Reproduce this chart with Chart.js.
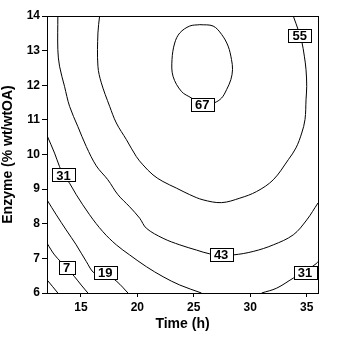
<!DOCTYPE html>
<html>
<head>
<meta charset="utf-8">
<script src="https://cdn.jsdelivr.net/npm/chart.js@4.4.0/dist/chart.umd.min.js"></script>
<style>
  html, body { margin: 0; padding: 0; background: #fff; }
</style>
</head>
<body>
<canvas id="myChart" width="337" height="343"></canvas>
<script>
// contour levels of the fitted surface
const levels = [-5, 7, 19, 31, 31, 43, 55, 67];

// contour lines as [time (h), enzyme (% wt/wtOA)] pairs
const lineM5 = [[12, 6.38], [12.51, 6.18], [12.96, 6.0]];
const line7 = [[12, 7.44], [12.67, 7.10], [13.73, 6.73], [14.44, 6.47], [15.03, 6.23], [15.62, 6.0]];
const line19 = [[12, 8.69], [12.82, 8.26], [13.70, 7.82], [14.59, 7.39], [15.48, 6.91], [16.21, 6.57],
    [17.16, 6.55], [18.19, 6.33], [19.17, 6.0]];
const line31a = [[12, 10.55], [12.67, 10.04], [13.11, 9.65], [13.46, 9.41], [14.0, 9.17], [14.59, 8.84],
    [15.77, 8.26], [16.95, 7.77], [18.14, 7.39], [19.32, 7.10], [20.80, 6.76], [22.28, 6.47],
    [23.76, 6.23], [25.68, 6.0]];
const line31b = [[31.01, 6.0], [32.34, 6.14], [33.81, 6.43], [34.85, 6.62], [35.89, 6.86], [36, 6.91]];
const line43 = [[12.96, 14], [12.96, 13.03], [13.11, 12.55], [13.55, 11.97], [14.0, 11.39], [14.73, 10.81],
    [15.48, 10.23], [16.37, 9.67], [17.39, 9.27], [18.28, 8.84], [19.32, 8.49], [20.21, 8.16],
    [20.80, 7.87], [22.28, 7.58], [23.76, 7.39], [25.24, 7.24], [26.42, 7.13], [27.42, 7.11],
    [28.49, 7.10], [30.26, 7.20], [32.04, 7.39], [33.81, 7.68], [35.0, 8.11], [36, 8.60]];
const line55 = [[16.66, 14], [16.51, 13.51], [16.51, 12.55], [16.81, 12.07], [17.55, 11.39], [18.14, 10.91],
    [19.03, 10.43], [19.91, 9.94], [20.50, 9.70], [21.39, 9.41], [22.27, 9.22], [23.46, 9.03],
    [24.64, 8.84], [25.82, 8.69], [27.46, 8.61], [29.08, 8.74], [30.56, 8.93], [32.04, 9.27],
    [33.37, 9.85], [34.05, 10.19], [34.56, 10.62], [34.85, 11.01], [34.94, 11.58], [35.0, 11.97],
    [34.94, 12.45], [34.79, 12.84], [34.56, 13.27], [34.30, 13.55], [33.81, 14]];
const line67 = [[25.53, 13.75], [26.71, 13.71], [27.46, 13.47], [28.04, 13.13], [28.34, 12.74], [28.43, 12.45],
    [28.28, 12.16], [27.90, 11.87], [27.46, 11.63], [26.80, 11.49], [25.80, 11.41], [24.80, 11.63],
    [23.91, 11.82], [23.16, 12.26], [23.07, 12.74], [23.31, 13.22], [23.76, 13.51], [24.64, 13.71],
    [25.53, 13.75]];
const contourLines = [lineM5, line7, line19, line31a, line31b, line43, line55, line67];

// boxed level labels
const labelText = ['7', '19', '31', '43', '55', '67', '31'];
const labelTime = [13.73, 17.16, 13.46, 27.42, 34.39, 25.75, 34.85];
const labelEnzyme = [6.73, 6.59, 9.41, 7.11, 13.45, 11.44, 6.58];

const xTicks = [15, 20, 25, 30, 35];

const FONT = '"Liberation Sans", Arial, sans-serif';

const datasets = contourLines.map((pts, i) => ({
    label: String(levels[i]),
    data: pts.map(p => ({x: p[0], y: p[1]})),
    showLine: true,
    borderColor: '#000',
    borderWidth: 1,
    pointRadius: 0,
    tension: 0.35,
    fill: false
}));

// frame around the plot area plus the boxed labels on top of the lines
const contourLabels = {
    id: 'contourLabels',
    afterDatasetsDraw(chart) {
        const {ctx, chartArea: a, scales: {x, y}} = chart;
        ctx.save();
        ctx.strokeStyle = '#000';
        ctx.lineWidth = 1;
        const l = Math.floor(a.left) + 0.5, t = Math.floor(a.top) + 0.5;
        const r = Math.floor(a.right) + 0.5, b = Math.floor(a.bottom) + 0.5;
        ctx.strokeRect(l, t, r - l, b - t);

        ctx.font = 'bold 13px ' + FONT;
        ctx.textAlign = 'center';
        ctx.textBaseline = 'middle';
        labelText.forEach((txt, i) => {
            const px = x.getPixelForValue(labelTime[i]);
            const py = y.getPixelForValue(labelEnzyme[i]);
            const w = Math.round(ctx.measureText(txt).width + 9);
            const h = 13;
            const bx = Math.round(px - w / 2) + 0.5, by = Math.round(py - h / 2) + 0.5;
            ctx.fillStyle = '#fff';
            ctx.fillRect(bx, by, w, h);
            ctx.strokeRect(bx, by, w, h);
            ctx.fillStyle = '#000';
            ctx.fillText(txt, px, py + 1);
        });
        ctx.restore();
    }
};

const config = {
    type: 'scatter',
    data: {datasets: datasets},
    options: {
        responsive: false,
        animation: false,
        devicePixelRatio: 1,
        layout: {padding: {left: 0, top: 16, right: 19, bottom: 0}},
        plugins: {
            legend: {display: false},
            tooltip: {enabled: false}
        },
        scales: {
            x: {
                type: 'linear',
                min: 12,
                max: 36,
                afterBuildTicks: s => { s.ticks = xTicks.map(v => ({value: v})); },
                afterFit: s => { s.height = 50; },
                grid: {drawOnChartArea: false, drawTicks: true, tickLength: 4, color: '#000'},
                border: {display: true, color: '#000', width: 1},
                ticks: {color: '#000', padding: 3, font: {family: FONT, size: 12, weight: 'bold'}},
                title: {
                    display: true,
                    text: 'Time (h)',
                    color: '#000',
                    padding: {top: 0, bottom: 10},
                    font: {family: FONT, size: 14, weight: 'bold'}
                }
            },
            y: {
                type: 'linear',
                min: 6,
                max: 14,
                afterFit: s => { s.width = 47; },
                grid: {drawOnChartArea: false, drawTicks: true, tickLength: 5, color: '#000'},
                border: {display: true, color: '#000', width: 1},
                ticks: {stepSize: 1, color: '#000', padding: 2, font: {family: FONT, size: 12, weight: 'bold'}},
                title: {
                    display: true,
                    text: 'Enzyme (% wt/wtOA)',
                    color: '#000',
                    padding: {top: 0, bottom: 0},
                    font: {family: FONT, size: 14, weight: 'bold'}
                }
            }
        }
    },
    plugins: [contourLabels]
};

const myChart = new Chart(document.getElementById('myChart'), config);
</script>
</body>
</html>
